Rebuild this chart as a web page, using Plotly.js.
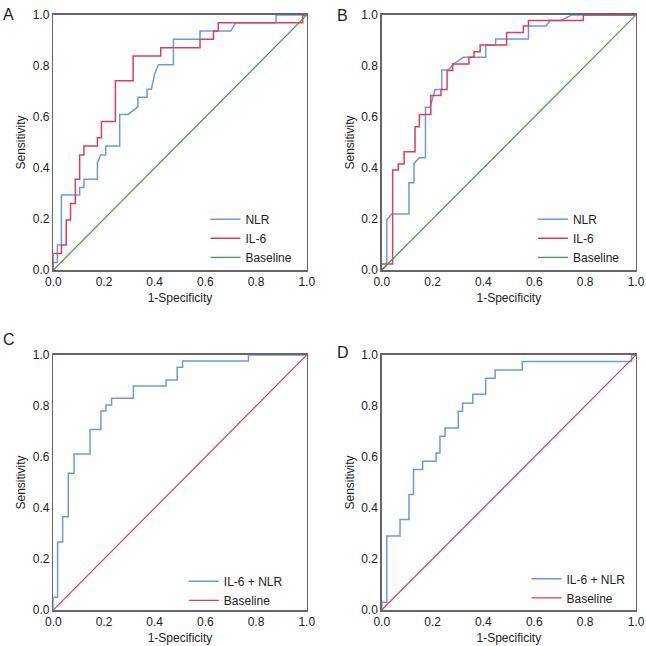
<!DOCTYPE html>
<html>
<head>
<meta charset="utf-8">
<script src="https://cdn.plot.ly/plotly-3.0.1.min.js"></script>
<style>
  html, body { margin: 0; padding: 0; background: #fff; }
  #rocChart { width: 646px; height: 646px; }
</style>
</head>
<body>
<div id="rocChart"></div>
<script>
// ROC vertices (1-specificity, sensitivity)
const aNlrX = [0, 0, 0.016, 0.016, 0.032, 0.032, 0.104, 0.104, 0.121, 0.121, 0.174, 0.174, 0.187, 0.207, 0.207, 0.262, 0.262, 0.295, 0.334, 0.334, 0.37, 0.37, 0.387, 0.40, 0.415, 0.474, 0.474, 0.579, 0.579, 0.70, 0.72, 0.879, 0.879, 1.0];
const aNlrY = [0, 0.03, 0.03, 0.098, 0.098, 0.294, 0.294, 0.324, 0.324, 0.356, 0.356, 0.42, 0.451, 0.451, 0.486, 0.486, 0.61, 0.61, 0.64, 0.677, 0.677, 0.709, 0.709, 0.77, 0.805, 0.805, 0.905, 0.905, 0.937, 0.937, 0.97, 0.97, 1.0, 1.0];
const aIl6X = [0, 0, 0.032, 0.032, 0.051, 0.051, 0.068, 0.068, 0.087, 0.087, 0.104, 0.104, 0.121, 0.121, 0.174, 0.174, 0.19, 0.19, 0.245, 0.245, 0.315, 0.315, 0.424, 0.424, 0.579, 0.579, 0.632, 0.632, 0.651, 0.651, 0.984, 0.984, 1.0];
const aIl6Y = [0, 0.065, 0.065, 0.098, 0.098, 0.196, 0.196, 0.261, 0.261, 0.356, 0.356, 0.451, 0.451, 0.486, 0.486, 0.519, 0.519, 0.582, 0.582, 0.742, 0.742, 0.839, 0.839, 0.872, 0.872, 0.905, 0.905, 0.937, 0.937, 0.97, 0.97, 1.0, 1.0];

const bNlrX = [0, 0.02, 0.02, 0.039, 0.107, 0.107, 0.127, 0.127, 0.148, 0.172, 0.172, 0.19, 0.21, 0.236, 0.236, 0.262, 0.282, 0.321, 0.409, 0.409, 0.448, 0.448, 0.577, 0.577, 0.646, 0.662, 0.704, 0.747, 1.0];
const bNlrY = [0, 0.02, 0.196, 0.22, 0.22, 0.342, 0.342, 0.418, 0.44, 0.44, 0.638, 0.638, 0.708, 0.708, 0.784, 0.784, 0.808, 0.834, 0.834, 0.882, 0.882, 0.906, 0.906, 0.957, 0.957, 0.978, 0.978, 1.0, 1.0];
const bIl6X = [0, 0.043, 0.043, 0.065, 0.065, 0.088, 0.088, 0.131, 0.131, 0.148, 0.148, 0.193, 0.193, 0.233, 0.233, 0.257, 0.257, 0.279, 0.279, 0.343, 0.343, 0.363, 0.363, 0.387, 0.387, 0.491, 0.491, 0.557, 0.557, 0.577, 0.577, 0.793, 0.793, 1.0];
const bIl6Y = [0.024, 0.024, 0.392, 0.392, 0.416, 0.416, 0.464, 0.464, 0.562, 0.562, 0.61, 0.61, 0.684, 0.684, 0.708, 0.708, 0.782, 0.782, 0.808, 0.808, 0.834, 0.834, 0.856, 0.856, 0.882, 0.882, 0.931, 0.931, 0.957, 0.957, 0.978, 0.978, 1.0, 1.0];

const cComboX = [0, 0, 0.017, 0.017, 0.037, 0.037, 0.059, 0.059, 0.082, 0.082, 0.145, 0.145, 0.188, 0.188, 0.208, 0.208, 0.23, 0.23, 0.316, 0.316, 0.445, 0.445, 0.489, 0.489, 0.51, 0.51, 0.77, 0.77, 1.0];
const cComboY = [0, 0.05, 0.05, 0.267, 0.267, 0.366, 0.366, 0.536, 0.536, 0.612, 0.612, 0.708, 0.708, 0.78, 0.78, 0.804, 0.804, 0.83, 0.83, 0.878, 0.878, 0.902, 0.902, 0.952, 0.952, 0.976, 0.976, 1.0, 1.0];

const dComboX = [0, 0, 0.02, 0.02, 0.072, 0.072, 0.107, 0.107, 0.125, 0.125, 0.161, 0.161, 0.214, 0.214, 0.229, 0.229, 0.249, 0.249, 0.301, 0.301, 0.318, 0.318, 0.358, 0.358, 0.409, 0.409, 0.446, 0.446, 0.553, 0.553, 0.983, 0.983, 1.0];
const dComboY = [0, 0.03, 0.03, 0.29, 0.29, 0.355, 0.355, 0.453, 0.453, 0.551, 0.551, 0.583, 0.583, 0.616, 0.616, 0.681, 0.681, 0.714, 0.714, 0.779, 0.779, 0.811, 0.811, 0.846, 0.846, 0.909, 0.909, 0.941, 0.941, 0.974, 0.974, 1.0, 1.0];

const baseline = [0, 1];
const tickVals = [0, 0.2, 0.4, 0.6, 0.8, 1.0];
const panelLetters = ['A', 'B', 'C', 'D'];

const blue = '#6a9be0';
const red = '#de3d5c';
const green = '#3f9d45';

const traces = [
  { x: aNlrX, y: aNlrY, name: 'NLR', xaxis: 'x', yaxis: 'y', legend: 'legend', line: { color: blue, width: 1.5 } },
  { x: aIl6X, y: aIl6Y, name: 'IL-6', xaxis: 'x', yaxis: 'y', legend: 'legend', line: { color: red, width: 1.5 } },
  { x: baseline, y: baseline, name: 'Baseline', xaxis: 'x', yaxis: 'y', legend: 'legend', line: { color: green, width: 1.2 } },
  { x: bNlrX, y: bNlrY, name: 'NLR', xaxis: 'x2', yaxis: 'y2', legend: 'legend2', line: { color: blue, width: 1.5 } },
  { x: bIl6X, y: bIl6Y, name: 'IL-6', xaxis: 'x2', yaxis: 'y2', legend: 'legend2', line: { color: red, width: 1.5 } },
  { x: baseline, y: baseline, name: 'Baseline', xaxis: 'x2', yaxis: 'y2', legend: 'legend2', line: { color: green, width: 1.2 } },
  { x: cComboX, y: cComboY, name: 'IL-6 + NLR', xaxis: 'x3', yaxis: 'y3', legend: 'legend3', line: { color: blue, width: 1.5 } },
  { x: baseline, y: baseline, name: 'Baseline', xaxis: 'x3', yaxis: 'y3', legend: 'legend3', line: { color: red, width: 1.2 } },
  { x: dComboX, y: dComboY, name: 'IL-6 + NLR', xaxis: 'x4', yaxis: 'y4', legend: 'legend4', line: { color: blue, width: 1.5 } },
  { x: baseline, y: baseline, name: 'Baseline', xaxis: 'x4', yaxis: 'y4', legend: 'legend4', line: { color: red, width: 1.2 } }
].map(t => Object.assign({ type: 'scatter', mode: 'lines', hoverinfo: 'skip' }, t));

function xAxis(domain, anchor) {
  return {
    domain: domain, anchor: anchor, range: [0, 1], tickvals: tickVals, tickformat: '.1f',
    showline: true, mirror: true, linecolor: '#666', linewidth: 1.5,
    showgrid: false, zeroline: false, ticks: '', tickfont: { size: 12, color: '#222' },
    title: { text: '1-Specificity', font: { size: 12, color: '#222' }, standoff: 5 }
  };
}
function yAxis(domain, anchor) {
  return {
    domain: domain, anchor: anchor, range: [0, 1], tickvals: tickVals, tickformat: '.1f',
    showline: true, mirror: true, linecolor: '#666', linewidth: 1.5,
    showgrid: false, zeroline: false, ticks: '', tickfont: { size: 12, color: '#222' },
    title: { text: 'Sensitivity', font: { size: 12, color: '#222' }, standoff: 4 }
  };
}
function legendAt(x, y) {
  return { x: x, y: y, xanchor: 'left', yanchor: 'top', bgcolor: 'rgba(0,0,0,0)', font: { size: 12, color: '#222' }, itemwidth: 30 };
}

const leftX = [0.0825, 0.4748];
const rightX = [0.5909, 0.9845];
const topY = [0.582, 0.9768];
const botY = [0.0557, 0.4505];

const layout = {
  width: 646, height: 646,
  margin: { l: 0, r: 0, t: 0, b: 0 },
  paper_bgcolor: '#fff', plot_bgcolor: '#fff',
  font: { family: '"Liberation Sans", Arial, sans-serif', color: '#222' },
  showlegend: true,
  xaxis: xAxis(leftX, 'y'), yaxis: yAxis(topY, 'x'),
  xaxis2: xAxis(rightX, 'y2'), yaxis2: yAxis(topY, 'x2'),
  xaxis3: xAxis(leftX, 'y3'), yaxis3: yAxis(botY, 'x3'),
  xaxis4: xAxis(rightX, 'y4'), yaxis4: yAxis(botY, 'x4'),
  legend: legendAt(0.318, 0.683),
  legend2: legendAt(0.825, 0.683),
  legend3: legendAt(0.2846, 0.1226),
  legend4: legendAt(0.815, 0.1264),
  annotations: [
    { text: panelLetters[0], x: 0.002, y: 0.994 },
    { text: panelLetters[1], x: 0.518, y: 0.992 },
    { text: panelLetters[2], x: 0.002, y: 0.491 },
    { text: panelLetters[3], x: 0.518, y: 0.471 }
  ].map(a => Object.assign({ xref: 'paper', yref: 'paper', xanchor: 'left', yanchor: 'top', showarrow: false, font: { size: 16, color: '#222' } }, a))
};

Plotly.newPlot('rocChart', traces, layout, { staticPlot: true });
</script>
</body>
</html>
